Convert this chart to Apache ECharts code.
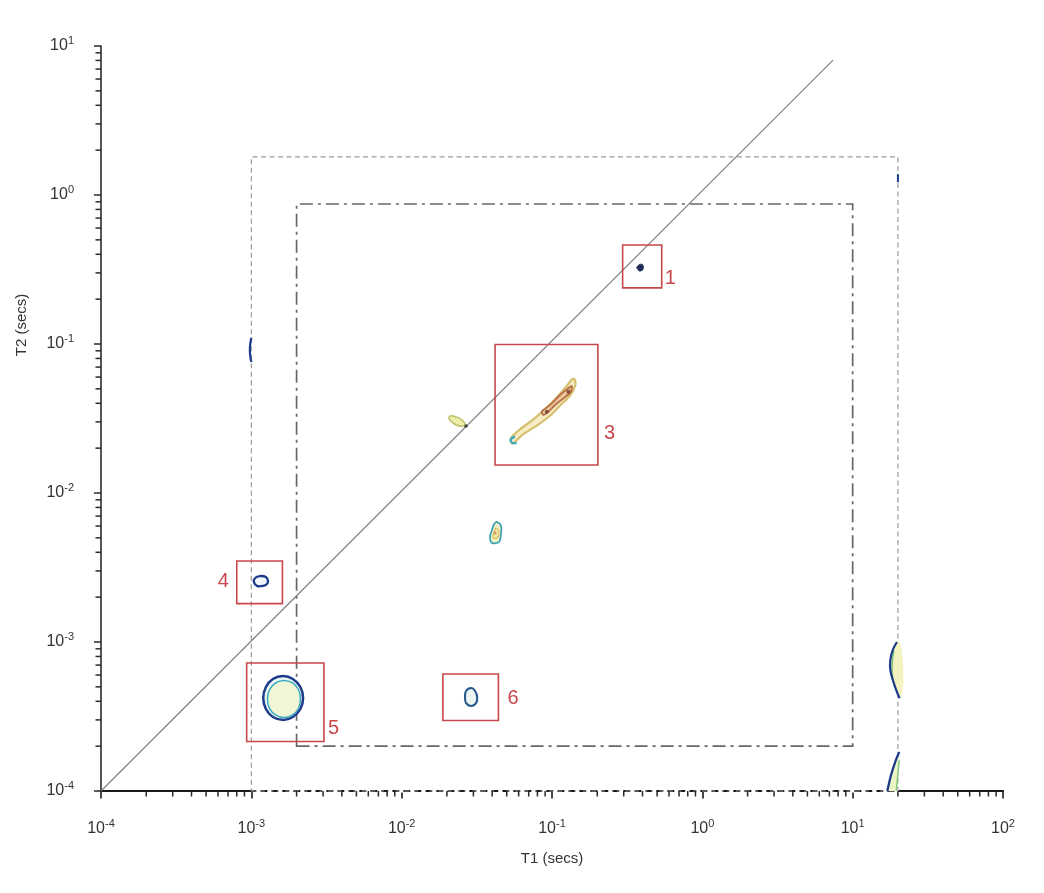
<!DOCTYPE html>
<html>
<head>
<meta charset="utf-8">
<script src="https://cdn.jsdelivr.net/npm/echarts@6/dist/echarts.min.js"></script>
<style>
  html, body { margin: 0; padding: 0; background: #ffffff; }
  #chart { width: 1044px; height: 893px; }
</style>
</head>
<body>
<div id="chart"></div>
<script>
// ---- axis decades ----
const T1_DECADES = [1e-4, 1e-3, 1e-2, 1e-1, 1e0, 1e1, 1e2];
const T2_DECADES = [1e-4, 1e-3, 1e-2, 1e-1, 1e0, 1e1];

// ---- reference geometry (T1, T2 in seconds) ----
const DIAGONAL = [[1e-4, 1e-4], [7.41, 8.05]];
const OUTER_T1 = [1e-3, 20];
const OUTER_T2 = [1e-4, 1.8];
const INNER_T1 = [2e-3, 10];
const INNER_T2 = [2e-4, 0.87];

// numbered regions: label, T1 min, T1 max, T2 min, T2 max
const REGIONS = [
  ['1', 0.295, 0.537, 0.238, 0.462],
  ['3', 0.0418, 0.202, 0.0154, 0.0993],
  ['4', 8.0e-4, 1.61e-3, 1.81e-3, 3.50e-3],
  ['5', 9.31e-4, 3.04e-3, 2.15e-4, 7.23e-4],
  ['6', 0.0188, 0.0440, 2.97e-4, 6.10e-4]
];

// ---- T1-T2 correlation contours ----
const PEAK1 = [[0.366, 0.326], [0.381, 0.341], [0.398, 0.343], [0.406, 0.330], [0.400, 0.313], [0.381, 0.309]];

const PEAK3_OUTER = [[0.0532, 0.0233], [0.0614, 0.0268], [0.0752, 0.0312], [0.0923, 0.0374], [0.1076, 0.0437],
  [0.1253, 0.0522], [0.1355, 0.0577], [0.1409, 0.0582], [0.1430, 0.0528], [0.1318, 0.0451], [0.1132, 0.0386],
  [0.0970, 0.0330], [0.0793, 0.0283], [0.0646, 0.0249], [0.0567, 0.0220], [0.0541, 0.0215]];
const PEAK3_INNER = [[0.0855, 0.0351], [0.0970, 0.0390], [0.1132, 0.0455], [0.1285, 0.0504], [0.1355, 0.0523],
  [0.1334, 0.0479], [0.1191, 0.0432], [0.1050, 0.0390], [0.0946, 0.0351], [0.0877, 0.0334]];
const PEAK3_TAIL = [[0.0567, 0.0239], [0.0532, 0.0229], [0.0541, 0.0218], [0.0583, 0.0216]];
const PEAK3_CORE = [[0.0923, 0.0351], [0.1285, 0.0479]];

const PEAK_C = [[0.0210, 0.0329], [0.0230, 0.0324], [0.0252, 0.0309], [0.0264, 0.0286], [0.0241, 0.0282],
  [0.0220, 0.0295], [0.0207, 0.0314]];
const PEAK_C_CORE = [[0.0268, 0.0282]];

const PEAK_D = [[0.0431, 6.39e-3], [0.0458, 6.01e-3], [0.0458, 5.31e-3], [0.0444, 4.69e-3], [0.0399, 4.62e-3],
  [0.0387, 5.07e-3], [0.0399, 5.65e-3], [0.0412, 6.19e-3]];
const PEAK_D_INNER = [[0.0425, 5.82e-3], [0.0444, 5.47e-3], [0.0431, 4.99e-3], [0.0405, 4.99e-3], [0.0412, 5.47e-3]];
const PEAK_D_CORE = [[0.0418, 5.39e-3]];

const PEAK4 = [[1.29e-3, 2.57e-3], [1.25e-3, 2.73e-3], [1.14e-3, 2.77e-3], [1.06e-3, 2.69e-3], [1.04e-3, 2.53e-3],
  [1.09e-3, 2.38e-3], [1.20e-3, 2.38e-3], [1.27e-3, 2.45e-3]];

const PEAK5_OUTER = [[2.21e-3, 4.21e-4], [2.12e-3, 4.99e-4], [1.89e-3, 5.65e-4], [1.63e-3, 5.91e-4], [1.39e-3, 5.65e-4],
  [1.25e-3, 4.99e-4], [1.20e-3, 4.21e-4], [1.25e-3, 3.55e-4], [1.39e-3, 3.14e-4], [1.63e-3, 3.00e-4],
  [1.89e-3, 3.14e-4], [2.12e-3, 3.55e-4]];
const PEAK5_INNER = [[2.12e-3, 4.14e-4], [2.06e-3, 4.78e-4], [1.88e-3, 5.31e-4], [1.65e-3, 5.52e-4], [1.45e-3, 5.31e-4],
  [1.32e-3, 4.78e-4], [1.28e-3, 4.14e-4], [1.32e-3, 3.59e-4], [1.45e-3, 3.24e-4], [1.65e-3, 3.11e-4],
  [1.88e-3, 3.24e-4], [2.06e-3, 3.59e-4]];

const PEAK6 = [[0.0318, 4.27e-4], [0.0308, 4.69e-4], [0.0290, 4.91e-4], [0.0268, 4.69e-4], [0.0264, 4.27e-4],
  [0.0268, 3.90e-4], [0.0290, 3.72e-4], [0.0313, 3.90e-4]];

const EDGE_LEFT = [[1.0e-3, 0.110], [9.8e-4, 0.0970], [9.8e-4, 0.0857], [1.0e-3, 0.0757]];

const EDGE_RIGHT_OUTER = [[19.7, 1.00e-3], [18.5, 8.84e-4], [17.8, 7.57e-4], [17.8, 6.49e-4], [18.5, 5.56e-4],
  [19.5, 4.76e-4], [20.5, 4.19e-4]];
const EDGE_RIGHT_FILL = [[19.7, 1.00e-3], [18.5, 8.84e-4], [17.8, 7.57e-4], [17.8, 6.49e-4], [18.5, 5.56e-4],
  [19.5, 4.76e-4], [20.5, 4.19e-4], [21.5, 4.76e-4], [21.7, 6.49e-4], [21.2, 8.84e-4], [20.3, 1.02e-3]];
const EDGE_RIGHT_INNER = [[18.8, 8.71e-4], [18.3, 7.12e-4], [18.5, 5.56e-4], [19.5, 4.76e-4]];

const CORNER_OUTER = [[17.0, 1.0e-4], [18.0, 1.28e-4], [19.2, 1.57e-4], [20.4, 1.83e-4]];
const CORNER_INNER = [[19.5, 1.0e-4], [20.1, 1.38e-4], [20.4, 1.61e-4]];
const EDGE_TOP_MARK = [[20, 1.38], [20, 1.22]];

// ---- drawing ----
const FONT = '"Liberation Sans", Arial, Helvetica, sans-serif';
const RED = '#c8474a';
const NAVY = '#1d3b8a';
const CYAN = '#3aa9c2';

// minor tick positions 2..9 within each decade
function minorValues(decades) {
  const out = [];
  for (let i = 0; i < decades.length - 1; i++) {
    for (let m = 2; m <= 9; m++) out.push(Number((m * decades[i]).toPrecision(3)));
  }
  return out;
}

// one closed outline or open stroke, placed through the axes' log scales
function shape(points, style, kind, smooth, z) {
  return {
    type: 'custom', coordinateSystem: 'cartesian2d', silent: true, animation: false,
    z: z || 4, clip: false,
    data: points,
    renderItem: function (params, api) {
      if (params.dataIndex !== 0) return null;
      const pts = points.map(function (p) { return api.coord(p); });
      return {
        type: kind,
        shape: { points: pts, smooth: smooth || 0 },
        style: Object.assign(kind === 'polyline' ? { fill: null } : {}, style)
      };
    }
  };
}

function dots(points, color, r, z) {
  return {
    type: 'scatter', silent: true, animation: false, z: z || 5,
    symbol: 'circle', symbolSize: r, itemStyle: { color: color },
    data: points
  };
}

function windowPoly(t1, t2) {
  return [[t1[0], t2[0]], [t1[1], t2[0]], [t1[1], t2[1]], [t1[0], t2[1]]];
}

function tickSeries(values, axis) {
  return {
    type: 'custom', coordinateSystem: 'cartesian2d', silent: true, animation: false, z: 6, clip: false,
    data: values.map(function (v) { return axis === 'x' ? [v, 1e-4] : [1e-4, v]; }),
    renderItem: function (params, api) {
      const p = api.coord([api.value(0), api.value(1)]);
      const shapeDef = axis === 'x'
        ? { x1: p[0], y1: p[1], x2: p[0], y2: p[1] + 5.5 }
        : { x1: p[0], y1: p[1], x2: p[0] - 5.5, y2: p[1] };
      return { type: 'line', shape: shapeDef, style: { stroke: '#2a2a2a', lineWidth: 1.5 } };
    }
  };
}

// where each region's number sits relative to its box
const LABEL_PLACE = {
  '1': { side: 'right', dx: 3, fy: 0.77 },
  '3': { side: 'right', dx: 6, fy: 0.74 },
  '4': { side: 'left', dx: 8, fy: 0.49 },
  '5': { side: 'right', dx: 4, fy: 0.84 },
  '6': { side: 'right', dx: 9, fy: 0.52 }
};

const regionSeries = {
  type: 'custom', coordinateSystem: 'cartesian2d', silent: true, animation: false, z: 8, clip: false,
  data: REGIONS.map(function (r) { return [r[1], r[2], r[3], r[4], r[0]]; }),
  renderItem: function (params, api) {
    const row = REGIONS[params.dataIndex];
    const tl = api.coord([row[1], row[4]]);
    const br = api.coord([row[2], row[3]]);
    const place = LABEL_PLACE[row[0]];
    const ty = tl[1] + (br[1] - tl[1]) * place.fy;
    const tx = place.side === 'right' ? br[0] + place.dx : tl[0] - place.dx;
    return {
      type: 'group',
      children: [
        { type: 'rect', shape: { x: tl[0], y: tl[1], width: br[0] - tl[0], height: br[1] - tl[1] },
          style: { fill: null, stroke: RED, lineWidth: 1.6 } },
        { type: 'text', x: tx, y: ty,
          style: { text: row[0], fill: RED, fontSize: 20, fontFamily: FONT,
                   align: place.side === 'right' ? 'left' : 'right', verticalAlign: 'middle' } }
      ]
    };
  }
};

function decadeLabel(v) {
  return '{m|10}{e|' + Math.round(Math.log10(v)) + '}';
}
const labelRich = {
  m: { fontSize: 16, fontFamily: FONT, color: '#333', lineHeight: 22 },
  e: { fontSize: 11, fontFamily: FONT, color: '#333', lineHeight: 11, verticalAlign: 'top' }
};

const option = {
  backgroundColor: '#ffffff',
  animation: false,
  grid: { left: 101, right: 41, top: 46, bottom: 102, containLabel: false },
  xAxis: {
    type: 'log', logBase: 10, min: T1_DECADES[0], max: T1_DECADES[T1_DECADES.length - 1], splitNumber: 6,
    name: 'T1 (secs)', nameLocation: 'middle', nameGap: 60,
    nameTextStyle: { fontSize: 15, fontFamily: FONT, color: '#333' },
    axisLine: { show: true, lineStyle: { color: '#1a1a1a', width: 2.2 } },
    axisTick: { show: true, inside: false, length: 7.5, lineStyle: { color: '#1a1a1a', width: 1.6 } },
    axisLabel: { margin: 27, formatter: decadeLabel, rich: labelRich },
    splitLine: { show: false }
  },
  yAxis: {
    type: 'log', logBase: 10, min: T2_DECADES[0], max: T2_DECADES[T2_DECADES.length - 1], splitNumber: 5,
    axisLine: { show: true, lineStyle: { color: '#2a2a2a', width: 1.6 } },
    axisTick: { show: true, inside: false, length: 7, lineStyle: { color: '#2a2a2a', width: 1.5 } },
    axisLabel: { margin: 27, formatter: decadeLabel, rich: labelRich },
    splitLine: { show: false }
  },
  graphic: [{
    type: 'text', x: 22, y: 325, rotation: Math.PI / 2, silent: true,
    style: { text: 'T2 (secs)', fill: '#333', fontSize: 15, fontFamily: FONT, align: 'center', verticalAlign: 'middle' }
  }],
  series: [
    // analysis windows
    shape(windowPoly(OUTER_T1, OUTER_T2), { fill: null, stroke: '#9c9c9c', lineWidth: 1.2, lineDash: [5, 3.5] }, 'polygon', 0, 2),
    shape(windowPoly(INNER_T1, INNER_T2), { fill: null, stroke: '#676767', lineWidth: 1.7, lineDash: [13, 5, 3, 5] }, 'polygon', 0, 2),
    // dashed stretch along the T1 axis under the outer window
    shape([[OUTER_T1[0], 1e-4], [OUTER_T1[1], 1e-4]], { stroke: '#ffffff', lineWidth: 3.2, lineDash: [4, 7], lineDashOffset: 6 }, 'polyline', 0, 3),
    // T1 = T2 line
    {
      type: 'line', silent: true, animation: false, z: 3, symbol: 'none', clip: false,
      lineStyle: { color: '#7a7a7a', width: 1.1 },
      data: DIAGONAL
    },
    // contours
    shape(PEAK3_OUTER, { fill: '#f7ecc6', stroke: '#d6bf6e', lineWidth: 2.2 }, 'polygon', 0.3),
    shape(PEAK3_INNER, { fill: '#ecc8a2', stroke: '#b87245', lineWidth: 1.9 }, 'polygon', 0.3),
    shape(PEAK3_TAIL, { stroke: CYAN, lineWidth: 2.2 }, 'polyline', 0.4),
    dots(PEAK3_CORE, '#6e3a22', 4),
    shape(PEAK_C, { fill: '#eceea9', stroke: '#bcc46a', lineWidth: 1.6 }, 'polygon', 0.4),
    dots(PEAK_C_CORE, '#222222', 3.5),
    shape(PEAK_D, { fill: '#f2f1c4', stroke: '#3a9fb0', lineWidth: 1.7 }, 'polygon', 0.3),
    shape(PEAK_D_INNER, { fill: '#f4e6ae', stroke: '#d2bf5e', lineWidth: 1.2 }, 'polygon', 0.3),
    dots(PEAK_D_CORE, '#d3894a', 3),
    shape(PEAK1, { fill: '#1f2d55', stroke: '#1f2d55', lineWidth: 1 }, 'polygon', 0.2),
    shape(PEAK4, { fill: '#f2f6fb', stroke: NAVY, lineWidth: 2.3 }, 'polygon', 0.4),
    shape(PEAK5_OUTER, { fill: '#eaf6ef', stroke: NAVY, lineWidth: 2.5 }, 'polygon', 0.4),
    shape(PEAK5_INNER, { fill: '#f1f6d6', stroke: CYAN, lineWidth: 1.5 }, 'polygon', 0.4),
    shape(PEAK6, { fill: '#edf5f3', stroke: '#27598c', lineWidth: 2.1 }, 'polygon', 0.4),
    shape(EDGE_LEFT, { stroke: NAVY, lineWidth: 2.2 }, 'polyline', 0.4),
    shape(EDGE_RIGHT_FILL, { fill: '#f3f3bf', stroke: null }, 'polygon', 0.4),
    shape(EDGE_RIGHT_INNER, { stroke: '#7fc27a', lineWidth: 1.5 }, 'polyline', 0.4),
    shape(EDGE_RIGHT_OUTER, { stroke: NAVY, lineWidth: 2.2 }, 'polyline', 0.4),
    shape(CORNER_INNER.concat(CORNER_OUTER.slice().reverse()), { fill: '#eef5c4', stroke: null }, 'polygon', 0),
    shape(CORNER_INNER, { stroke: '#86c77e', lineWidth: 1.5 }, 'polyline', 0.3),
    shape(CORNER_OUTER, { stroke: NAVY, lineWidth: 2.3 }, 'polyline', 0.3),
    shape(EDGE_TOP_MARK, { stroke: NAVY, lineWidth: 2 }, 'polyline', 0),
    // numbered regions
    regionSeries,
    // minor ticks
    tickSeries(minorValues(T1_DECADES), 'x'),
    tickSeries(minorValues(T2_DECADES), 'y')
  ]
};

const chart = echarts.init(document.getElementById('chart'), null, { renderer: 'canvas' });
chart.setOption(option);
</script>
</body>
</html>
